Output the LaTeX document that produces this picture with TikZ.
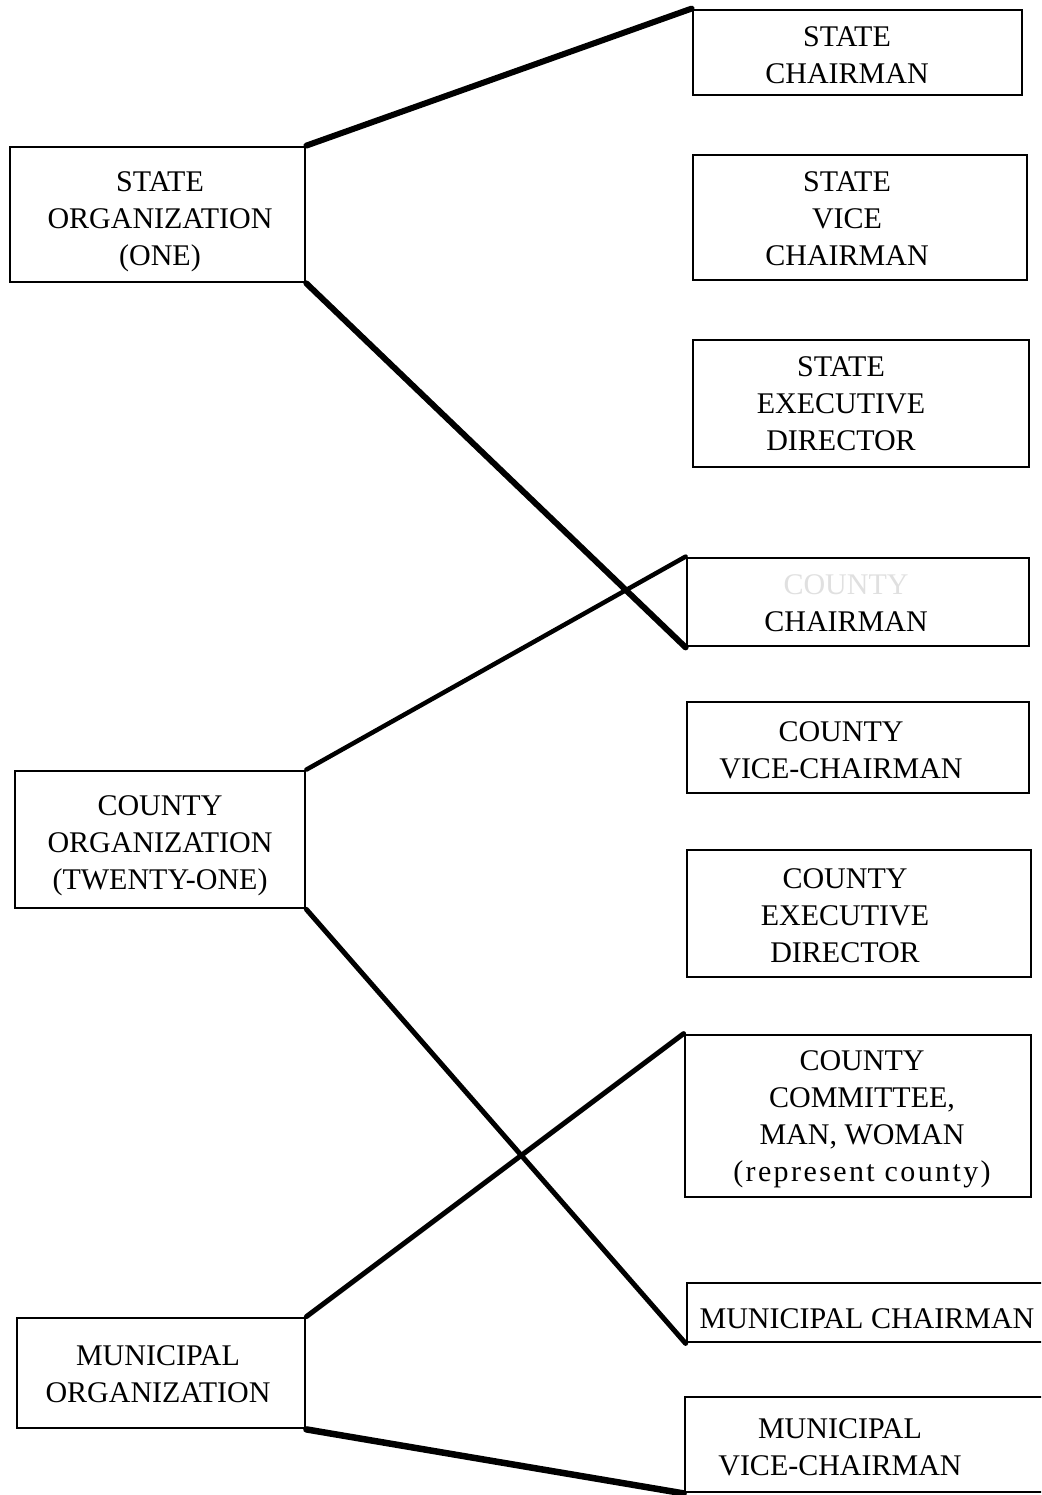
\documentclass[tikz,border=0pt]{standalone}
\usepackage{fontspec}
\setmainfont{Liberation Serif}
\begin{document}
\begin{tikzpicture}[x=1pt,y=-1pt,
  box/.style={draw=black,line width=2.8pt,inner sep=0pt},
  lbl/.style={inner sep=0pt,align=center,font=\fontsize{30}{37}\selectfont},
  link/.style={draw=black,line width=#1,line cap=round},
  link/.default=5pt]
\clip (0,0) rectangle (1041,1495);
\fill[white] (0,0) rectangle (1041,1495);
% left boxes
\node[box,minimum width=295pt,minimum height=135pt] (so) at (157.5,214.5) {};
\node[box,minimum width=290pt,minimum height=137pt] (co) at (160,839.5) {};
\node[box,minimum width=288pt,minimum height=110pt] (mo) at (161,1373) {};
% right boxes
\node[box,minimum width=329pt,minimum height=85pt] (sc) at (857.5,52.5) {};
\node[box,minimum width=334pt,minimum height=125pt] (svc) at (860,217.5) {};
\node[box,minimum width=336pt,minimum height=127pt] (sed) at (861,403.5) {};
\node[box,minimum width=342pt,minimum height=88pt] (cc) at (858,602) {};
\node[box,minimum width=342pt,minimum height=91pt] (cvc) at (858,747.5) {};
\node[box,minimum width=344pt,minimum height=127pt] (ced) at (859,913.5) {};
\node[box,minimum width=346pt,minimum height=162pt] (ccm) at (858,1116) {};
\node[box,minimum width=360pt,minimum height=59pt] (mc) at (867,1312.5) {};
\node[box,minimum width=380pt,minimum height=95pt] (mvc) at (875,1444.5) {};
% texts
\node[lbl] (sot) at (160,221.5) {STATE\\ORGANIZATION\\(ONE)};
\node[lbl] (cot) at (160,845.5) {COUNTY\\ORGANIZATION\\(TWENTY-ONE)};
\node[lbl] (mot) at (158,1374) {MUNICIPAL\\ORGANIZATION};
\node[lbl] (sct) at (847,55.5) {STATE\\CHAIRMAN};
\node[lbl] (svct) at (847,218.5) {STATE\\VICE\\CHAIRMAN};
\node[lbl] (sedt) at (841,403.5) {STATE\\EXECUTIVE\\DIRECTOR};
\node[lbl] (cct) at (846,603) {\textcolor{black!12}{COUNTY}\\CHAIRMAN};
\node[lbl] (cvct) at (841,750.5) {COUNTY\\VICE-CHAIRMAN};
\node[lbl] (cedt) at (845,915.5) {COUNTY\\EXECUTIVE\\DIRECTOR};
\node[lbl] (ccmt) at (862,1119) {COUNTY\\COMMITTEE,\\MAN, WOMAN\\{\addfontfeature{LetterSpace=8}(represent county)}};
\node[lbl] (mct) at (867,1319) {MUNICIPAL CHAIRMAN};
\node[lbl] (mvct) at (840,1447) {MUNICIPAL\\VICE-CHAIRMAN};
% connectors
\draw[link=6pt] (so.north east) -- (sc.north west);
\draw[link=6pt] (so.south east) -- (cc.south west);
\draw[link=4.5pt] (co.north east) -- (cc.north west);
\draw[link=5pt] (co.south east) -- (mc.south west);
\draw[link=5pt] (mo.north east) -- (ccm.north west);
\draw[link=6.5pt] (mo.south east) -- (mvc.south west);
\end{tikzpicture}
\end{document}
